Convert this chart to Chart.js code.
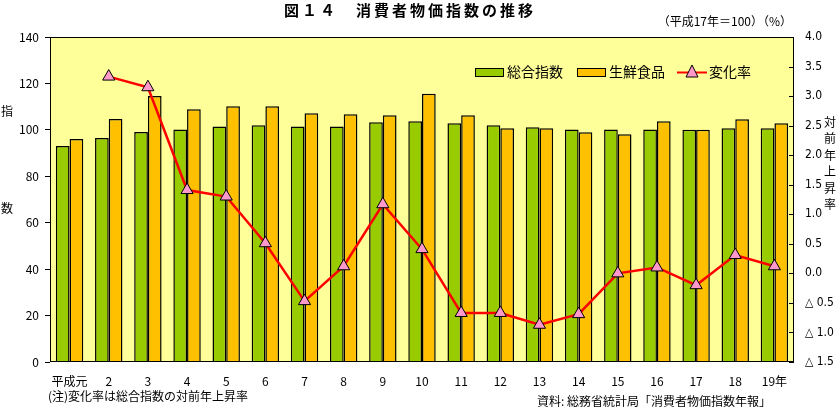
<!DOCTYPE html>
<html>
<head>
<meta charset="utf-8">
<script src="https://cdn.jsdelivr.net/npm/chart.js@4"></script>
<style>
  html, body { margin: 0; padding: 0; background: #fff; }
  #wrap { width: 837px; height: 410px; position: relative; }
</style>
</head>
<body>
<div id="wrap"><canvas id="cpi-chart" width="837" height="410"></canvas></div>
<script>
// values
const years = ['平成元', '2', '3', '4', '5', '6', '7', '8', '9', '10', '11', '12', '13', '14', '15', '16', '17', '18', '19年'];
const generalIndex = [93.0, 96.5, 99.1, 100.2, 101.5, 102.0, 101.5, 101.5, 103.3, 103.7, 102.8, 102.0, 101.1, 100.2, 100.2, 100.2, 100.0, 100.7, 100.7];
const freshFood = [96.1, 104.7, 114.6, 108.9, 110.2, 110.2, 107.2, 106.7, 106.3, 115.6, 106.3, 100.7, 100.7, 99.0, 98.1, 103.7, 100.0, 104.6, 102.8];
const changeRate = [null, 3.33, 3.15, 1.41, 1.3, 0.51, -0.47, 0.12, 1.17, 0.41, -0.67, -0.67, -0.87, -0.69, 0.0, 0.1, -0.2, 0.31, 0.12];
const leftTicks = [0, 20, 40, 60, 80, 100, 120, 140];
const rightTicks = [-1.5, -1.0, -0.5, 0.0, 0.5, 1.0, 1.5, 2.0, 2.5, 3.0, 3.5, 4.0];

const FONT = '"Noto Sans CJK JP", "Noto Sans", sans-serif';
const NARROW = '"Liberation Sans Narrow", "DejaVu Sans Condensed", "Noto Sans CJK JP", sans-serif';
const GREEN = '#99CC00', ORANGE = '#FFC000', PINK = '#FF99CC';

// plot background, frame, right-axis inner ticks, texts and legend
const decor = {
  id: 'decor',
  beforeDraw(chart) {
    const { ctx, chartArea: a } = chart;
    ctx.save();
    ctx.fillStyle = '#FFFF99';
    ctx.fillRect(a.left, a.top, a.right - a.left, a.bottom - a.top);
    ctx.restore();
  },
  afterDraw(chart) {
    const { ctx, chartArea: a } = chart;
    const y1 = chart.scales.y1;
    ctx.save();
    ctx.strokeStyle = '#000';
    ctx.lineWidth = 1;
    ctx.strokeRect(a.left + 0.5, a.top + 0.5, a.right - a.left - 1, a.bottom - a.top - 1);
    rightTicks.forEach(v => {
      const py = Math.round(y1.getPixelForValue(v)) + 0.5;
      ctx.beginPath();
      ctx.moveTo(a.right - 5, py);
      ctx.lineTo(a.right, py);
      ctx.stroke();
    });

    ctx.fillStyle = '#000';
    // title
    ctx.font = 'bold 15px ' + FONT;
    ctx.textAlign = 'center';
    ctx.textBaseline = 'middle';
    ctx.letterSpacing = '3px';
    ctx.fillText('図１４　消費者物価指数の推移', 410, 10);
    ctx.letterSpacing = '0px';

    ctx.font = '12px ' + FONT;
    ctx.textAlign = 'right';
    ctx.fillText('（平成17年＝100）（%）', 792, 21);

    // axis titles
    ctx.textAlign = 'center';
    ctx.fillText('指', 7, 111);
    ctx.fillText('数', 7, 208);
    const rt = '対前年上昇率';
    for (let i = 0; i < rt.length; i++) ctx.fillText(rt[i], 830, 122 + i * 16.5);

    // notes
    ctx.textAlign = 'left';
    ctx.fillText('(注)変化率は総合指数の対前年上昇率', 48, 396);
    ctx.fillText('資料: 総務省統計局「消費者物価指数年報」', 537, 401);

    // legend
    ctx.font = '14px ' + FONT;
    ctx.lineWidth = 1;
    ctx.fillStyle = GREEN;
    ctx.fillRect(475.5, 68.5, 28, 8);
    ctx.strokeRect(475.5, 68.5, 28, 8);
    ctx.fillStyle = ORANGE;
    ctx.fillRect(577.5, 68.5, 28, 8);
    ctx.strokeRect(577.5, 68.5, 28, 8);
    ctx.strokeStyle = '#FF0000';
    ctx.lineWidth = 2;
    ctx.beginPath();
    ctx.moveTo(677, 72.5);
    ctx.lineTo(707, 72.5);
    ctx.stroke();
    ctx.fillStyle = PINK;
    ctx.strokeStyle = '#000';
    ctx.lineWidth = 1;
    ctx.beginPath();
    ctx.moveTo(692, 65);
    ctx.lineTo(698, 77);
    ctx.lineTo(686, 77);
    ctx.closePath();
    ctx.fill();
    ctx.stroke();
    ctx.fillStyle = '#000';
    ctx.textBaseline = 'middle';
    ctx.fillText('総合指数', 507, 72);
    ctx.fillText('生鮮食品', 609, 72);
    ctx.fillText('変化率', 709, 72);
    ctx.restore();
  }
};

const ctx = document.getElementById('cpi-chart').getContext('2d');
new Chart(ctx, {
  data: {
    labels: years,
    datasets: [
      {
        type: 'line',
        label: '変化率',
        data: changeRate,
        yAxisID: 'y1',
        borderColor: '#FF0000',
        borderWidth: 2.5,
        pointStyle: 'triangle',
        pointRadius: 7,
        pointBackgroundColor: PINK,
        pointBorderColor: '#000',
        pointBorderWidth: 1,
        tension: 0,
        order: 0
      },
      {
        type: 'bar',
        label: '総合指数',
        data: generalIndex,
        yAxisID: 'y',
        backgroundColor: GREEN,
        borderColor: '#000',
        borderWidth: 1.5,
        borderSkipped: 'bottom',
        barPercentage: 1.0,
        categoryPercentage: 0.7,
        order: 1
      },
      {
        type: 'bar',
        label: '生鮮食品',
        data: freshFood,
        yAxisID: 'y',
        backgroundColor: ORANGE,
        borderColor: '#000',
        borderWidth: 1.5,
        borderSkipped: 'bottom',
        barPercentage: 1.0,
        categoryPercentage: 0.7,
        order: 1
      }
    ]
  },
  options: {
    responsive: false,
    animation: false,
    layout: { padding: { top: 37, left: 0, right: 0, bottom: 0 } },
    plugins: {
      legend: { display: false },
      tooltip: { enabled: false }
    },
    scales: {
      x: {
        grid: { display: false, drawTicks: false },
        border: { display: false },
        ticks: { color: '#000', font: { family: FONT, size: 12 }, padding: 12, maxRotation: 0, autoSkip: false },
        afterFit: s => { s.height = 48; }
      },
      y: {
        position: 'left',
        min: 0,
        max: 140,
        afterBuildTicks: s => { s.ticks = leftTicks.map(v => ({ value: v })); },
        grid: { drawOnChartArea: false, color: '#000', tickLength: 5 },
        border: { display: false },
        ticks: { color: '#000', font: { family: FONT, size: 12 }, padding: 6 },
        afterFit: s => { s.width = 50; }
      },
      y1: {
        position: 'right',
        min: -1.5,
        max: 4.0,
        afterBuildTicks: s => { s.ticks = rightTicks.map(v => ({ value: v })); },
        grid: { display: false, drawTicks: false },
        border: { display: false },
        ticks: {
          color: '#000',
          font: { family: NARROW, size: 12 },
          padding: 11,
          callback: v => v < 0 ? '△ ' + Math.abs(v).toFixed(1) : v.toFixed(1)
        },
        afterFit: s => { s.width = 43; }
      }
    }
  },
  plugins: [decor]
});
</script>
</body>
</html>
